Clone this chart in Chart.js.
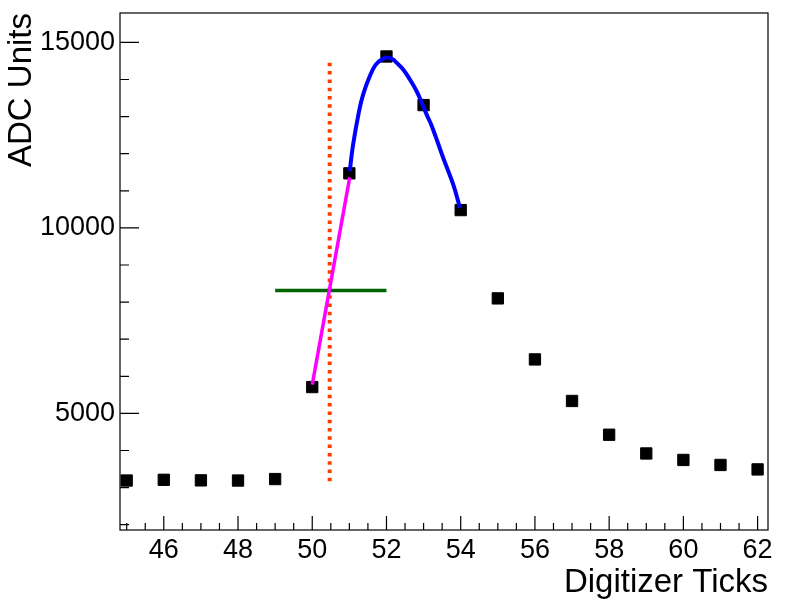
<!DOCTYPE html>
<html>
<head>
<meta charset="utf-8">
<script src="https://cdn.jsdelivr.net/npm/chart.js@4.4.1/dist/chart.umd.min.js"></script>
<style>
  html, body { margin: 0; padding: 0; background: #fff; }
  #wrap { width: 789px; height: 610px; }
</style>
</head>
<body>
<div id="wrap"><canvas id="myChart" width="789" height="610"></canvas></div>
<script>
// samples (digitizer tick -> ADC)
const tickNo = [45, 46, 47, 48, 49, 50, 51, 52, 53, 54, 55, 56, 57, 58, 59, 60, 61, 62]
const adc = [3190, 3210, 3195, 3190, 3230, 5710, 11470, 14620, 13310, 10480, 8100, 6455, 5335, 4425, 3920, 3745, 3610, 3490]

// blue peak curve
const peakX = [51.01, 51.10, 51.26, 51.37, 51.53, 51.71, 51.91, 52.02, 52.18, 52.27, 52.45, 52.63, 52.81, 52.95, 53.08, 53.22, 53.53, 53.80, 53.98]
const peakY = [11530, 12240, 13140, 13590, 14040, 14400, 14561, 14590, 14540, 14453, 14272, 14003, 13690, 13375, 13060, 12747, 11885, 11165, 10540]

// magenta rising edge
const edgeX = [50.0, 51.01]
const edgeY = [5775, 11360]

// green half height line
const halfX = [49.0, 52.0]
const halfY = 8315

// red dotted crossing time
const crossX = 50.47
const crossY = [3170, 14530]

const xLabels = [46, 48, 50, 52, 54, 56, 58, 60, 62]
const yLabels = [5000, 10000, 15000]

const pts = (xs, ys) => xs.map((x, i) => ({ x: x, y: Array.isArray(ys) ? ys[i] : ys }))

const font = "'Liberation Sans', Arial, Helvetica, sans-serif"

// ROOT style frame with inward ticks
const framePlugin = {
    id: 'frame',
    beforeDatasetsDraw(chart) {
        const ctx = chart.ctx
        const a = chart.chartArea
        const xs = chart.scales.x
        const ys = chart.scales.y
        ctx.save()
        ctx.strokeStyle = '#000'
        ctx.lineWidth = 1.2
        ctx.beginPath()
        for (let v = 45; v <= 62.001; v += 0.5) {
            let px = xs.getPixelForValue(v)
            let len = (v % 2 === 0) ? 14 : 7
            ctx.moveTo(px, a.bottom)
            ctx.lineTo(px, a.bottom - len)
        }
        for (let v = 2000; v <= 15000; v += 1000) {
            let py = ys.getPixelForValue(v)
            let len = (v % 5000 === 0) ? 19 : 9
            ctx.moveTo(a.left, py)
            ctx.lineTo(a.left + len, py)
        }
        ctx.stroke()
        ctx.strokeRect(a.left, a.top, a.right - a.left, a.bottom - a.top)
        ctx.restore()
    }
}

new Chart(document.getElementById('myChart'), {
    type: 'scatter',
    data: {
        datasets: [
            {
                label: 'samples',
                data: pts(tickNo, adc),
                showLine: false,
                pointStyle: 'rect',
                pointRadius: 8,
                pointBorderWidth: 1,
                pointBackgroundColor: '#000',
                pointBorderColor: '#000',
                order: 5
            },
            {
                label: 'cross',
                data: pts([crossX, crossX], crossY),
                showLine: true,
                borderColor: '#ff3c00',
                borderWidth: 4,
                borderDash: [3.5, 4.8],
                borderCapStyle: 'butt',
                pointRadius: 0,
                order: 4
            },
            {
                label: 'half',
                data: pts(halfX, halfY),
                showLine: true,
                borderColor: '#006400',
                borderWidth: 3.5,
                pointRadius: 0,
                order: 3
            },
            {
                label: 'edge',
                data: pts(edgeX, edgeY),
                showLine: true,
                borderColor: '#ff00ff',
                borderWidth: 3.5,
                pointRadius: 0,
                order: 2
            },
            {
                label: 'peak',
                data: pts(peakX, peakY),
                showLine: true,
                borderColor: '#0000ff',
                borderWidth: 4,
                tension: 0.4,
                pointRadius: 0,
                order: 1
            }
        ]
    },
    options: {
        responsive: false,
        animation: false,
        events: [],
        layout: { padding: { left: 0, top: 13, right: 21, bottom: 0 } },
        plugins: {
            legend: { display: false },
            tooltip: { enabled: false }
        },
        scales: {
            x: {
                type: 'linear',
                min: 44.82,
                max: 62.28,
                afterBuildTicks: axis => { axis.ticks = xLabels.map(v => ({ value: v })) },
                afterFit: axis => {
                    axis.height = 80
                    axis.paddingLeft = 0
                    axis.paddingRight = 0
                },
                grid: { display: false, drawTicks: false, tickLength: 0 },
                border: { display: false },
                ticks: {
                    color: '#000', font: { family: font, size: 27 }, padding: 4, maxRotation: 0,
                    callback: v => String(v)
                },
                title: {
                    display: true,
                    text: 'Digitizer Ticks',
                    align: 'end',
                    color: '#000',
                    font: { family: font, size: 33 },
                    padding: { top: 0, bottom: 7 }
                }
            },
            y: {
                type: 'linear',
                min: 1857,
                max: 15792,
                afterBuildTicks: axis => { axis.ticks = yLabels.map(v => ({ value: v })) },
                afterFit: axis => {
                    axis.width = 120
                    axis.paddingTop = 0
                    axis.paddingBottom = 0
                },
                grid: { display: false, drawTicks: false, tickLength: 0 },
                border: { display: false },
                ticks: {
                    color: '#000', font: { family: font, size: 27 }, padding: 5,
                    callback: v => String(v)
                },
                title: {
                    display: true,
                    text: 'ADC Units',
                    align: 'end',
                    color: '#000',
                    font: { family: font, size: 33 },
                    padding: { top: 2, bottom: 0 }
                }
            }
        }
    },
    plugins: [framePlugin]
})
</script>
</body>
</html>
